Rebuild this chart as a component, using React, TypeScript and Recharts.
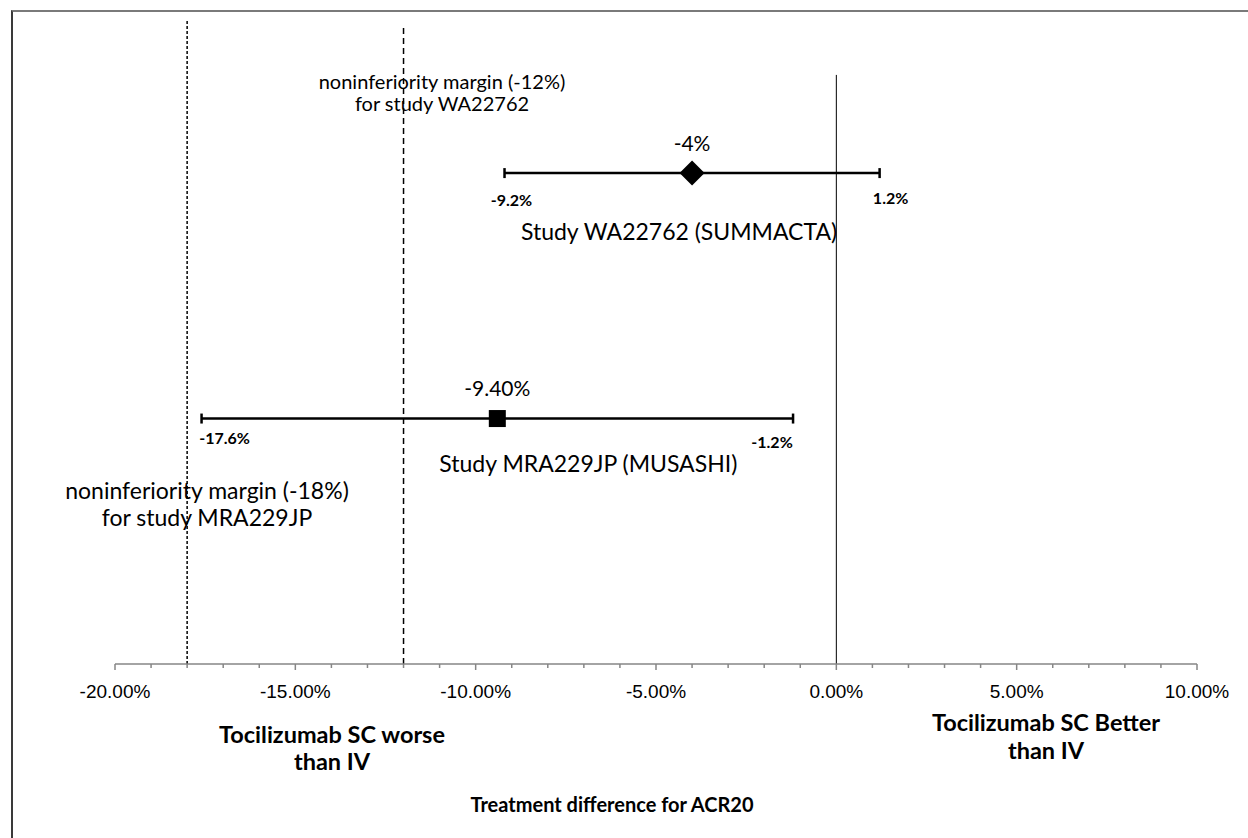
import { ComposedChart, Scatter, ErrorBar, XAxis, YAxis, ReferenceLine } from 'recharts';

// forest plot: treatment difference for ACR20 (SC vs IV)
const studies = ['Study WA22762 (SUMMACTA)', 'Study MRA229JP (MUSASHI)'];
const estimates = [-4, -9.4];
const estimateLabels = ['-4%', '-9.40%'];
const ciLower = [-9.2, -17.6];
const ciUpper = [1.2, -1.2];
const rows = [5, 2.5];
const marginValues = [-12, -18];
const marginTops = [6.5, 6.56];
const majorTicks = [-20, -15, -10, -5, 0, 5, 10];
const allTicks = Array.from({ length: 31 }, (_, i) => i - 20);

// label nudges (px) for ci bounds, as in the original picture
const loNudge = [[7, 26], [23, 19]];
const hiNudge = [[11, 24], [-21, 23]];

const CAL = 'Lato, "Open Sans", sans-serif';
const ARIAL = '"Liberation Sans", Arial, sans-serif';

const rowData = studies.map((name, i) => ({
  x: estimates[i],
  y: rows[i],
  err: [estimates[i] - ciLower[i], ciUpper[i] - estimates[i]],
  name,
  label: estimateLabels[i],
  idx: i,
}));

const boundData = studies.flatMap((_, i) => [
  { x: ciLower[i], y: rows[i], text: `${ciLower[i]}%`, nudge: loNudge[i] },
  { x: ciUpper[i], y: rows[i], text: `${ciUpper[i]}%`, nudge: hiNudge[i] },
]);

const Marker = (props: any) => {
  const { cx, cy, payload } = props;
  const diamond = payload.idx === 0;
  return (
    <g>
      {diamond ? (
        <polygon
          points={`${cx},${cy - 12.5} ${cx + 12.5},${cy} ${cx},${cy + 12.5} ${cx - 12.5},${cy}`}
          fill="#000"
        />
      ) : (
        <rect x={cx - 8.5} y={cy - 8.5} width={17} height={17} fill="#000" />
      )}
      <text x={cx} y={cy - 31} textAnchor="middle" dominantBaseline="central" fontFamily={CAL} fontSize={21} fill="#000">
        {payload.label}
      </text>
      <text
        x={payload.idx === 0 ? cx - 13 : cx + 91}
        y={cy + (payload.idx === 0 ? 58 : 44)}
        textAnchor="middle"
        dominantBaseline="central"
        fontFamily={CAL}
        fontSize={23}
        fill="#000"
      >
        {payload.name}
      </text>
    </g>
  );
};

const BoundLabel = (props: any) => {
  const { cx, cy, payload } = props;
  return (
    <text
      x={cx + payload.nudge[0]}
      y={cy + payload.nudge[1]}
      textAnchor="middle"
      dominantBaseline="central"
      fontFamily={CAL}
      fontWeight="bold"
      fontSize={16}
      fill="#000"
    >
      {payload.text}
    </text>
  );
};

const Tick = (props: any) => {
  const { x, y, payload } = props;
  const major = majorTicks.includes(payload.value);
  return (
    <g>
      <line x1={x} x2={x} y1={y} y2={y + (major ? 6 : 4)} stroke="#868686" strokeWidth={1.5} />
      {major && (
        <text x={x} y={y + 27} textAnchor="middle" dominantBaseline="central" fontFamily={ARIAL} fontSize={19} fill="#000">
          {`${payload.value.toFixed(2)}%`}
        </text>
      )}
    </g>
  );
};

// two-line text block kept as a single text element
const Block = ({ x, y, size, gap, lines, bold }: any) => (
  <text x={x} y={y} fontSize={size} fontWeight={bold ? 'bold' : 'normal'} fontFamily={CAL} fill="#000" textAnchor="middle" dominantBaseline="central">
    <tspan x={x}>{lines[0]}</tspan>
    <tspan x={x} dy={gap}>{lines[1]}</tspan>
  </text>
);

const App = () => {
  return (
    <div style={{ position: 'absolute', left: 0, top: 0, width: 1248, height: 838, background: '#fff', overflow: 'hidden' }}>
      <div
        style={{
          position: 'absolute',
          left: 11,
          top: 10,
          width: 1260,
          height: 860,
          borderTop: '2px solid #7a7a7a',
          borderLeft: '2px solid #3a3a3a',
        }}
      />
      <ComposedChart
        width={1248}
        height={838}
        margin={{ top: 16, right: 51, left: 115, bottom: 144 }}
        style={{ position: 'absolute', left: 0, top: 0 }}
      >
        <XAxis
          type="number"
          dataKey="x"
          domain={[-20, 10]}
          ticks={allTicks}
          interval={0}
          tickLine={false}
          tickSize={0}
          tickMargin={0}
          tick={<Tick />}
          axisLine={{ stroke: '#868686', strokeWidth: 1.5 }}
          height={30}
        />
        <YAxis type="number" dataKey="y" domain={[0, 6.6]} hide />
        <ReferenceLine
          segment={[{ x: 0, y: 0 }, { x: 0, y: 6 }]}
          stroke="#000"
          strokeWidth={1}
        />
        <ReferenceLine
          segment={[{ x: marginValues[1], y: 0 }, { x: marginValues[1], y: marginTops[1] }]}
          stroke="#000"
          strokeWidth={1.5}
          strokeDasharray="3 2"
        />
        <ReferenceLine
          segment={[{ x: marginValues[0], y: 0 }, { x: marginValues[0], y: marginTops[0] }]}
          stroke="#000"
          strokeWidth={1.5}
          strokeDasharray="6 4"
        />
        <Scatter data={boundData} shape={<BoundLabel />} isAnimationActive={false} />
        <Scatter data={rowData} shape={<Marker />} isAnimationActive={false}>
          <ErrorBar dataKey="err" direction="x" width={5} stroke="#000" strokeWidth={2.5} />
        </Scatter>
      </ComposedChart>
      <svg width={1248} height={838} style={{ position: 'absolute', left: 0, top: 0, pointerEvents: 'none' }}>
        <Block x={442} y={81} size={20} gap={22} lines={['noninferiority margin (-12%)', 'for study WA22762']} />
        <Block x={207} y={490} size={23} gap={27} lines={['noninferiority margin (-18%)', 'for study MRA229JP']} />
        <Block x={332} y={734} size={23.5} gap={27} bold lines={['Tocilizumab SC worse', 'than IV']} />
        <Block x={1046} y={722} size={23.5} gap={28} bold lines={['Tocilizumab SC Better', 'than IV']} />
        <text x={612} y={804} fontSize={20} fontWeight="bold" fontFamily={CAL} fill="#000" textAnchor="middle" dominantBaseline="central">
          Treatment difference for ACR20
        </text>
      </svg>
    </div>
  );
};

export default App;
